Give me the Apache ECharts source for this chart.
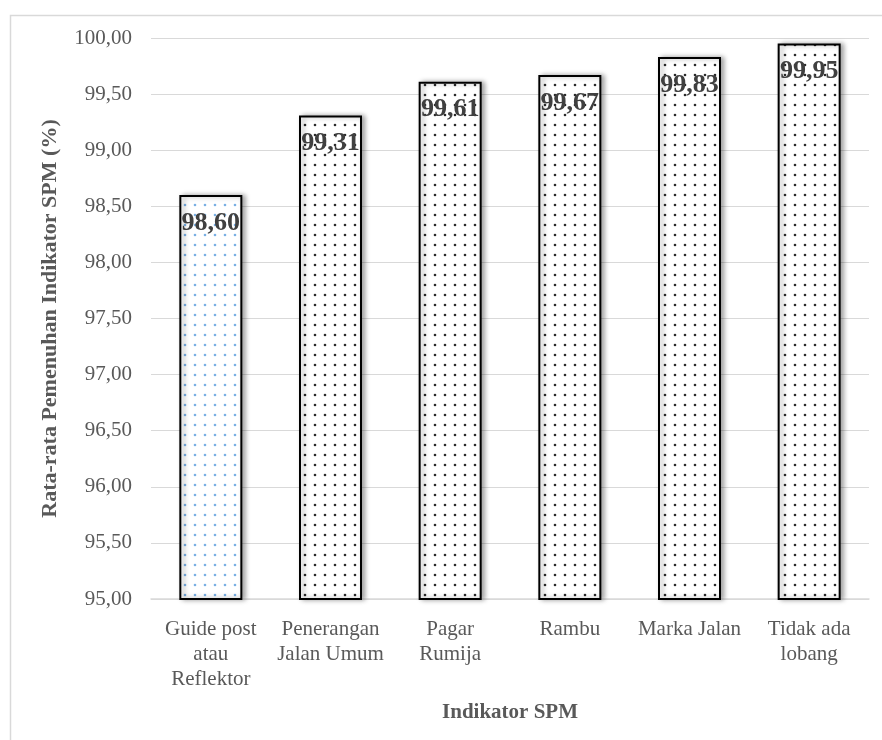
<!DOCTYPE html>
<html>
<head>
<meta charset="utf-8">
<script src="https://cdn.jsdelivr.net/npm/echarts@6/dist/echarts.min.js"></script>
<style>
  html, body { margin: 0; padding: 0; background: #fff; }
  #chart { width: 882px; height: 740px; }
</style>
</head>
<body>
<div id="chart"></div>
<script>
// Indicator categories and average compliance values (%)
const categories = [
  'Guide post\natau\nReflektor',
  'Penerangan\nJalan Umum',
  'Pagar\nRumija',
  'Rambu',
  'Marka Jalan',
  'Tidak ada\nlobang'
];
const values = [98.60, 99.31, 99.61, 99.67, 99.83, 99.95];
const yTicks = { min: 95, max: 100, step: 0.5 };

// Small repeating dot tile used as bar fill
function dotPattern(dotColor) {
  const c = document.createElement('canvas');
  c.width = 10; c.height = 10;
  const ctx = c.getContext('2d');
  ctx.fillStyle = '#ffffff';
  ctx.fillRect(0, 0, 10, 10);
  ctx.fillStyle = dotColor;
  ctx.beginPath();
  ctx.arc(5, 5, 1.3, 0, Math.PI * 2);
  ctx.fill();
  return { image: c, repeat: 'repeat' };
}
const darkDots = dotPattern('#2b2b2b');
const blueDots = dotPattern('#79afe3');

const fmt = v => v.toFixed(2).replace('.', ',');
const serif = '"Liberation Serif", "Times New Roman", serif';

const chart = echarts.init(document.getElementById('chart'), null, { renderer: 'canvas' });
chart.setOption({
  backgroundColor: '#ffffff',
  animation: false,
  graphic: [{
    type: 'rect',
    left: 8, top: 13,
    shape: { width: 900, height: 760 },
    style: { fill: 'none', stroke: '#d9d9d9', lineWidth: 1.5 },
    silent: true,
    z: -1
  }],
  grid: { left: 151, right: 13, top: 38, bottom: 141 },
  xAxis: {
    type: 'category',
    data: categories,
    axisLine: { lineStyle: { color: '#d9d9d9', width: 1.5 } },
    axisTick: { show: false },
    axisLabel: {
      color: '#595959',
      fontFamily: serif,
      fontSize: 21,
      lineHeight: 25,
      margin: 18,
      interval: 0
    },
    name: 'Indikator SPM',
    nameLocation: 'middle',
    nameGap: 103,
    nameTextStyle: { color: '#595959', fontFamily: serif, fontSize: 21, fontWeight: 'bold' }
  },
  yAxis: {
    type: 'value',
    min: yTicks.min, max: yTicks.max, interval: yTicks.step,
    axisLine: { show: false },
    axisTick: { show: false },
    splitLine: { lineStyle: { color: '#d9d9d9', width: 1.2 } },
    axisLabel: {
      color: '#595959', fontFamily: serif, fontSize: 21, margin: 19,
      formatter: v => fmt(v)
    },
    name: 'Rata-rata Pemenuhan Indikator SPM (%)',
    nameLocation: 'middle',
    nameGap: 90,
    nameTextStyle: { color: '#595959', fontFamily: serif, fontSize: 22, fontWeight: 'bold' }
  },
  series: [{
    type: 'bar',
    barWidth: 63,
    data: values.map((v, i) => ({
      value: v,
      itemStyle: { color: i === 0 ? blueDots : darkDots }
    })),
    itemStyle: {
      borderColor: '#000000',
      borderWidth: 2,
      shadowColor: 'rgba(0,0,0,0.35)',
      shadowBlur: 5,
      shadowOffsetX: 3,
      shadowOffsetY: 0
    },
    label: {
      show: true,
      position: 'insideTop',
      distance: 15,
      formatter: p => fmt(p.value),
      color: '#404040',
      fontFamily: serif,
      fontSize: 26,
      fontWeight: 'bold'
    }
  }]
});
</script>
</body>
</html>
